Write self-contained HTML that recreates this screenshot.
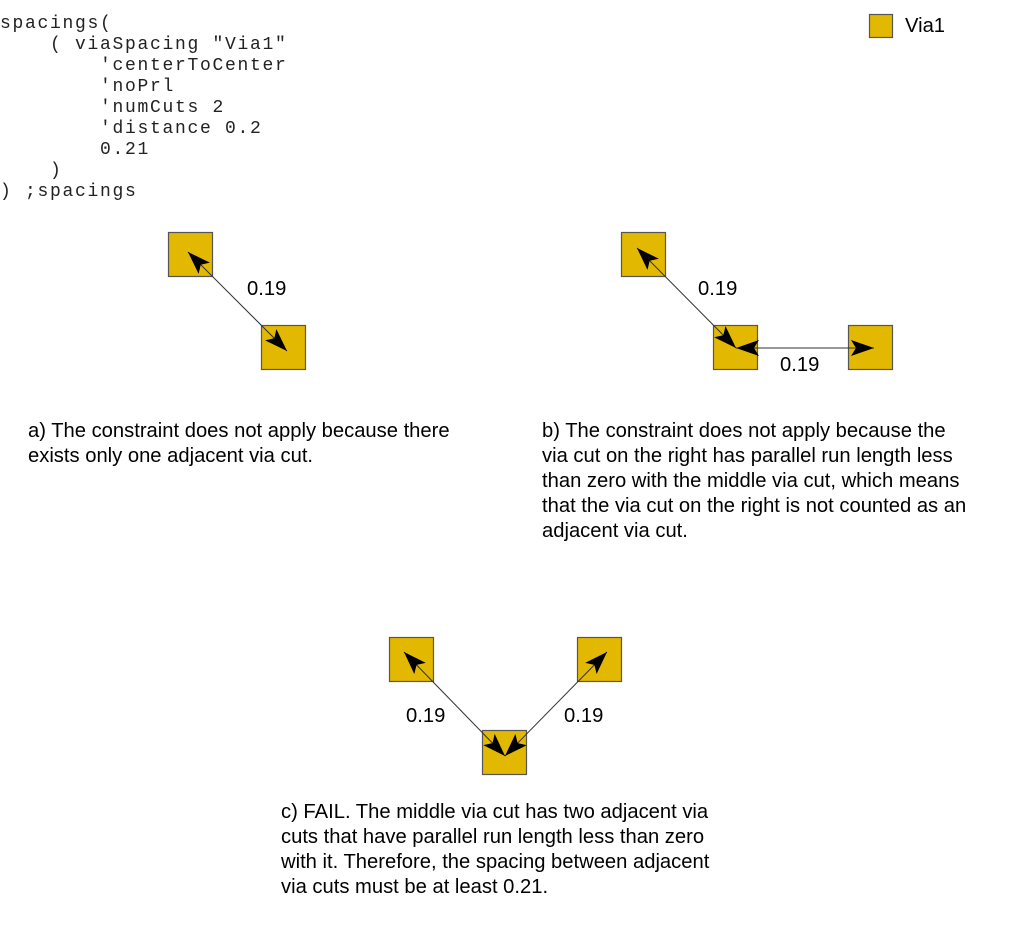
<!DOCTYPE html>
<html><head><meta charset="utf-8"><style>
html,body{margin:0;padding:0;background:#fff;}
svg{display:block;}
.c{font-family:"Liberation Mono",monospace;font-size:18px;letter-spacing:1.7px;fill:#222;}
.t{font-family:"Liberation Sans",sans-serif;font-size:20.2px;fill:#000;}
.sq{fill:#e2b800;stroke:#555;stroke-width:1.2;}
.ln{stroke:#333;stroke-width:1;}
</style></head><body>
<svg width="1013" height="944" viewBox="0 0 1013 944" xmlns="http://www.w3.org/2000/svg">
<defs>
<marker id="ah" markerUnits="userSpaceOnUse" markerWidth="26" markerHeight="18" refX="23" refY="8" orient="auto-start-reverse">
<path d="M0,0 L23,8 L0,16 L5,8 Z" fill="#000"/>
</marker>
</defs>
<text class="c" x="0" y="28">spacings(</text>
<text class="c" x="0" y="49" xml:space="preserve">    ( viaSpacing "Via1"</text>
<text class="c" x="0" y="70" xml:space="preserve">        'centerToCenter</text>
<text class="c" x="0" y="91" xml:space="preserve">        'noPrl</text>
<text class="c" x="0" y="112" xml:space="preserve">        'numCuts 2</text>
<text class="c" x="0" y="133" xml:space="preserve">        'distance 0.2</text>
<text class="c" x="0" y="154" xml:space="preserve">        0.21</text>
<text class="c" x="0" y="175" xml:space="preserve">    )</text>
<text class="c" x="0" y="196" xml:space="preserve">) ;spacings</text>

<rect class="sq" x="869.5" y="14.5" width="23" height="23"/>
<text class="t" x="905" y="32">Via1</text>

<!-- a -->
<rect class="sq" x="168.5" y="232.5" width="44" height="44"/>
<rect class="sq" x="261.5" y="325.5" width="44" height="44"/>
<line class="ln" x1="188" y1="252" x2="287" y2="351" marker-start="url(#ah)" marker-end="url(#ah)"/>
<text class="t" x="247" y="295">0.19</text>

<!-- b -->
<rect class="sq" x="621.5" y="232.5" width="44" height="44"/>
<rect class="sq" x="713.5" y="325.5" width="44" height="44"/>
<rect class="sq" x="848.5" y="325.5" width="44" height="44"/>
<line class="ln" x1="637" y1="248" x2="736" y2="348" marker-start="url(#ah)" marker-end="url(#ah)"/>
<line class="ln" x1="736" y1="348" x2="874" y2="348" marker-start="url(#ah)" marker-end="url(#ah)"/>
<text class="t" x="698" y="295">0.19</text>
<text class="t" x="780" y="371">0.19</text>

<text class="t" x="28" y="437">a) The constraint does not apply because there</text>
<text class="t" x="28" y="462">exists only one adjacent via cut.</text>

<text class="t" x="542" y="437">b) The constraint does not apply because the</text>
<text class="t" x="542" y="462">via cut on the right has parallel run length less</text>
<text class="t" x="542" y="487">than zero with the middle via cut, which means</text>
<text class="t" x="542" y="512">that the via cut on the right is not counted as an</text>
<text class="t" x="542" y="537">adjacent via cut.</text>

<!-- c -->
<rect class="sq" x="389.5" y="637.5" width="44" height="44"/>
<rect class="sq" x="577.5" y="637.5" width="44" height="44"/>
<rect class="sq" x="482.5" y="730.5" width="44" height="44"/>
<line class="ln" x1="404" y1="652" x2="505" y2="756" marker-start="url(#ah)" marker-end="url(#ah)"/>
<line class="ln" x1="607" y1="652" x2="505" y2="756" marker-start="url(#ah)" marker-end="url(#ah)"/>
<text class="t" x="406" y="722">0.19</text>
<text class="t" x="564" y="722">0.19</text>

<text class="t" x="281" y="818">c) FAIL. The middle via cut has two adjacent via</text>
<text class="t" x="281" y="843">cuts that have parallel run length less than zero</text>
<text class="t" x="281" y="868">with it. Therefore, the spacing between adjacent</text>
<text class="t" x="281" y="893">via cuts must be at least 0.21.</text>
</svg>
</body></html>
